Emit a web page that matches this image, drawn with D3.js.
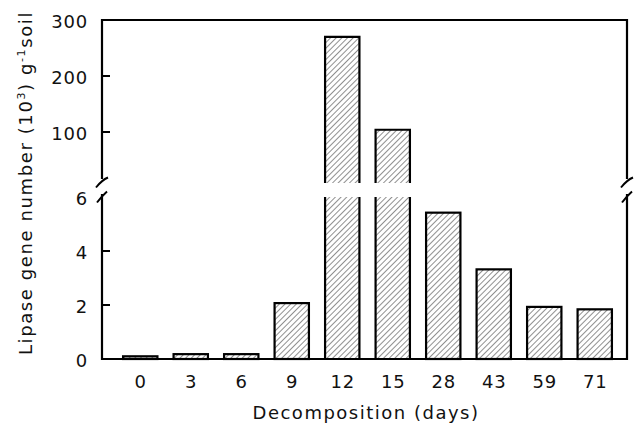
<!DOCTYPE html>
<html>
<head>
<meta charset="utf-8">
<script src="https://cdn.jsdelivr.net/npm/d3@7"></script>
<style>
  html, body { margin: 0; padding: 0; background: #fff; }
  svg { display: block; }
  text { font-family: "DejaVu Sans", sans-serif; fill: #111; }
</style>
</head>
<body>
<svg id="chart" width="636" height="425"></svg>
<script>
// ---- data ----
const categories = ["0", "3", "6", "9", "12", "15", "28", "43", "59", "71"];
const values = [0.1, 0.18, 0.18, 2.07, 270, 104, 5.42, 3.32, 1.93, 1.84]; // (10^3) g^-1 soil
const lowerTicks = [0, 2, 4, 6];
const upperTicks = [100, 200, 300];
const xTitle = "Decomposition (days)";

// ---- layout ----
const W = 636, H = 425;
const left = 102, right = 627;
const topY = 20, baseY = 359;
const lowerTop = 197;      // y of value 6 in lower panel
const upperBottom = 183;   // cut of upper panel
const lowerMax = 6;

const svg = d3.select("#chart");

const defs = svg.append("defs");
const pat = defs.append("pattern")
  .attr("id", "hatch")
  .attr("patternUnits", "userSpaceOnUse")
  .attr("width", 4).attr("height", 4)
  .attr("patternTransform", "rotate(45)");
pat.append("rect").attr("width", 4).attr("height", 4).attr("fill", "#fff");
pat.append("line").attr("x1", 0).attr("y1", 0).attr("x2", 0).attr("y2", 4)
  .attr("stroke", "#333").attr("stroke-width", 1.1);

const x = d3.scaleBand().domain(categories).range([115, 620])
  .paddingInner(0.32).paddingOuter(0.16);
const yLow = d3.scaleLinear().domain([0, lowerMax]).range([baseY, lowerTop]);
const yUp = d3.scaleLinear().domain([100, 300]).range([132, topY]);

const data = categories.map((c, i) => ({ c, v: values[i] }));
const bars = svg.append("g");

data.forEach(d => {
  const x0 = x(d.c), bw = x.bandwidth();
  if (d.v <= lowerMax) {
    bars.append("rect").attr("x", x0).attr("y", yLow(d.v))
      .attr("width", bw).attr("height", baseY - yLow(d.v))
      .attr("fill", "url(#hatch)").attr("stroke", "#000").attr("stroke-width", 2.2);
  } else {
    // lower part
    bars.append("rect").attr("x", x0).attr("y", lowerTop)
      .attr("width", bw).attr("height", baseY - lowerTop).attr("fill", "url(#hatch)");
    bars.append("path")
      .attr("d", `M${x0},${lowerTop}V${baseY}H${x0 + bw}V${lowerTop}`)
      .attr("fill", "none").attr("stroke", "#000").attr("stroke-width", 2.2);
    // upper part
    const yt = yUp(d.v);
    bars.append("rect").attr("x", x0).attr("y", yt)
      .attr("width", bw).attr("height", upperBottom - yt).attr("fill", "url(#hatch)");
    bars.append("path")
      .attr("d", `M${x0},${upperBottom}V${yt}H${x0 + bw}V${upperBottom}`)
      .attr("fill", "none").attr("stroke", "#000").attr("stroke-width", 2.2);
  }
});

// ---- frame ----
const frame = svg.append("g").attr("stroke", "#000").attr("stroke-width", 2.2).attr("fill", "none");
frame.append("path").attr("d", `M${left},179V${topY}H${right}V179`);
frame.append("path").attr("d", `M${left},194V${baseY}H${right}V194`);
// break marks
[left, right].forEach(bx => {
  frame.append("path").attr("d", `M${bx - 6},187.5Q${bx},180 ${bx + 6},177.5`).attr("stroke-width", 2);
  frame.append("path").attr("d", `M${bx - 5},202.5Q${bx},196 ${bx + 5},191.5`).attr("stroke-width", 2);
});

// ticks (inward)
const tk = svg.append("g").attr("stroke", "#000").attr("stroke-width", 2);
lowerTicks.filter(t => t > 0 && t < lowerMax).forEach(t => {
  tk.append("line").attr("x1", left).attr("x2", left + 8).attr("y1", yLow(t)).attr("y2", yLow(t));
});
upperTicks.filter(t => t < 300).forEach(t => {
  tk.append("line").attr("x1", left).attr("x2", left + 8).attr("y1", yUp(t)).attr("y2", yUp(t));
});

// tick labels
const lab = svg.append("g").attr("font-size", 18).attr("text-anchor", "end")
  .attr("dominant-baseline", "central").attr("letter-spacing", 0.8);
lowerTicks.forEach(t => {
  lab.append("text").attr("x", 88).attr("y", yLow(t) + 1).text(t);
});
upperTicks.forEach(t => {
  lab.append("text").attr("x", 88).attr("y", yUp(t) + 1).text(t);
});

const xl = svg.append("g").attr("font-size", 18).attr("text-anchor", "middle").attr("letter-spacing", 0.8);
categories.forEach(c => {
  xl.append("text").attr("x", x(c) + x.bandwidth() / 2 + 0.4).attr("y", 388).text(c);
});

svg.append("text").attr("x", 366).attr("y", 419).attr("font-size", 18)
  .attr("text-anchor", "middle").attr("letter-spacing", 1.5).text(xTitle);

// y title
const yt = svg.append("text").attr("transform", "translate(32,183) rotate(-90)")
  .attr("font-size", 18).attr("text-anchor", "middle").attr("letter-spacing", 1.6);
yt.append("tspan").text("Lipase gene number (10");
yt.append("tspan").attr("font-size", 11).attr("dy", -7).text("3");
yt.append("tspan").attr("dy", 7).text(") g");
yt.append("tspan").attr("font-size", 11).attr("dy", -7).text("-1");
yt.append("tspan").attr("dy", 7).text("soil");
</script>
</body>
</html>
